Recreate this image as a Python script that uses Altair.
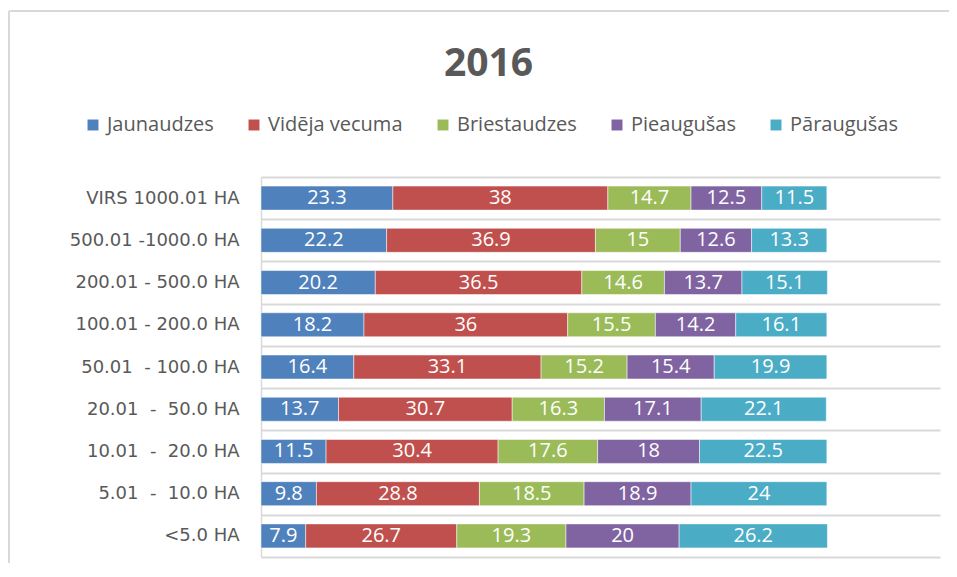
import altair as alt
import pandas as pd

NB = "\u00a0"
categories = ["VIRS 1000.01 HA", "500.01 -1000.0 HA", "200.01 - 500.0 HA",
              "100.01 - 200.0 HA", "50.01" + NB + " - 100.0 HA",
              "20.01" + NB + " - " + NB + "50.0 HA",
              "10.01" + NB + " - " + NB + "20.0 HA",
              "5.01" + NB + " - " + NB + "10.0 HA", "<5.0 HA"]
series = ["Jaunaudzes", "Vidēja vecuma", "Briestaudzes", "Pieaugušas", "Pāraugušas"]
colors = ["#4F81BD", "#C0504D", "#9BBB59", "#8064A2", "#4BACC6"]

jaunaudzes = [23.3, 22.2, 20.2, 18.2, 16.4, 13.7, 11.5, 9.8, 7.9]
videja_vecuma = [38, 36.9, 36.5, 36, 33.1, 30.7, 30.4, 28.8, 26.7]
briestaudzes = [14.7, 15, 14.6, 15.5, 15.2, 16.3, 17.6, 18.5, 19.3]
pieaugusas = [12.5, 12.6, 13.7, 14.2, 15.4, 17.1, 18, 18.9, 20]
paraugusas = [11.5, 13.3, 15.1, 16.1, 19.9, 22.1, 22.5, 24, 26.2]

values = [jaunaudzes, videja_vecuma, briestaudzes, pieaugusas, paraugusas]
rows = []
for si, (s, vals) in enumerate(zip(series, values)):
    for c, v in zip(categories, vals):
        rows.append({"category": c, "series": s, "order": si, "value": v})
df = pd.DataFrame(rows)

W, H = 679, 380

base = alt.Chart(df).transform_stack(
    stack="value", groupby=["category"], as_=["x0", "x1"],
    sort=[alt.SortField("order", order="ascending")]
).transform_calculate(mid="(datum.x0 + datum.x1) / 2")

yenc = alt.Y("category:N", sort=categories,
             scale=alt.Scale(paddingInner=0, paddingOuter=0),
             axis=alt.Axis(title=None, tickBand="extent", grid=True,
                           gridColor="#d9d9d9", gridWidth=2, ticks=False,
                           domain=True, domainColor="#d9d9d9", domainWidth=1.5,
                           labelFont="DejaVu Sans", labelFontSize=18,
                           labelColor="#595959", labelPadding=22))
xscale = alt.Scale(domain=[0, 120], nice=False, zero=True)

bars = base.mark_bar(size=24, stroke="white", strokeWidth=0.5).encode(
    x=alt.X("x0:Q", scale=xscale, axis=None),
    x2="x1:Q",
    y=yenc,
    color=alt.Color("series:N", sort=series,
                    scale=alt.Scale(domain=series, range=colors),
                    legend=alt.Legend(orient="none", legendX=-178, legendY=-62,
                                      direction="horizontal", title=None,
                                      symbolType="square", symbolSize=120,
                                      symbolStrokeWidth=0, labelFont="Open Sans",
                                      labelFontSize=20, labelColor="#595959",
                                      columnPadding=30, labelOffset=4)),
)

labels = base.mark_text(color="white", font="Open Sans", fontSize=20,
                        baseline="middle", align="center").encode(
    x=alt.X("mid:Q", scale=xscale, axis=None),
    y=alt.Y("category:N", sort=categories),
    text=alt.Text("value:Q", format=".3~g"),
)

frame_src = pd.DataFrame({"frame": [1]})
frame_top = alt.Chart(frame_src).mark_rule(color="#d9d9d9", strokeWidth=2).encode(
    x=alt.value(-252), x2=alt.value(W + 20), y=alt.value(-166))
frame_left = alt.Chart(frame_src).mark_rule(color="#d9d9d9", strokeWidth=2).encode(
    x=alt.value(-252), y=alt.value(-166), y2=alt.value(H + 30))

chart = alt.layer(frame_top, frame_left, bars, labels).properties(
    width=W, height=H,
    title=alt.TitleParams("2016", fontSize=39, font="Open Sans", fontWeight="bold",
                          color="#595959", anchor="middle", dx=-112, offset=-74),
    autosize=alt.AutoSizeParams(type="none"),
    padding={"left": 253, "top": 169, "right": 9, "bottom": 6},
).configure_view(stroke=None)

chart.save("out.html", embed_options={"renderer": "svg", "actions": False})
